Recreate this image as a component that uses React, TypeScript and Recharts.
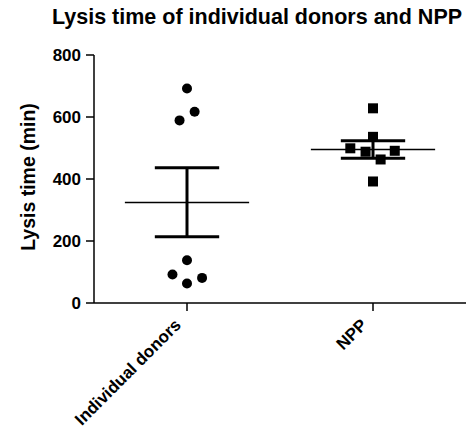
import React from 'react';
import {
    ScatterChart,
    Scatter,
    XAxis,
    YAxis,
    ReferenceLine,
} from 'recharts';

const categories = ['Individual donors', 'NPP'];
const yTicks = [0, 200, 400, 600, 800];

// individual points (x jitter in category units)
const donorValues = [692, 617, 589, 138, 92, 81, 63];
const donorJitter = [0, 0.041, -0.04, 0, -0.078, 0.081, 0];
const nppValues = [628, 536, 499, 488, 491, 463, 392];
const nppJitter = [0, 0, -0.122, -0.04, 0.117, 0.041, 0];

// mean and SEM per group
const means = [324, 495];
const semUpper = [436, 523];
const semLower = [214, 467];

const donorData = donorValues.map((v, i) => ({ x: 1 + donorJitter[i], y: v }));
const nppData = nppValues.map((v, i) => ({ x: 2 + nppJitter[i], y: v }));

const MEAN_HALF = 0.334;
const CAP_HALF = 0.173;

const font = '"Liberation Sans", Arial, sans-serif';

const Dot = (props: any) => <circle cx={props.cx} cy={props.cy} r={5} fill="#000" />;
const Square = (props: any) => (
    <rect x={props.cx - 5} y={props.cy - 5} width={10} height={10} fill="#000" />
);

const XTick = (props: any) => {
    const { x, y, payload } = props;
    const px = x - 5;
    const py = y + 13;
    return (
        <text
            x={px}
            y={py}
            transform={`rotate(-45, ${px}, ${py})`}
            textAnchor="end"
            fontFamily={font}
            fontWeight="bold"
            fontSize={17}
            fill="#000"
        >
            {categories[payload.value - 1]}
        </text>
    );
};

const YLabel = () => (
    <text
        x={35}
        y={177}
        transform="rotate(-90, 35, 177)"
        textAnchor="middle"
        fontFamily={font}
        fontWeight="bold"
        fontSize={19.5}
        fill="#000"
    >
        Lysis time (min)
    </text>
);

export default function App() {
    return (
        <div style={{ position: 'absolute', left: 0, top: 0, width: 468, height: 434, background: '#fff' }}>
            <div
                style={{
                    position: 'absolute',
                    left: 0,
                    top: 5,
                    width: 514,
                    textAlign: 'center',
                    fontFamily: font,
                    fontWeight: 'bold',
                    fontSize: 21.5,
                    color: '#000',
                }}
            >
                Lysis time of individual donors and NPP
            </div>
            <ScatterChart width={468} height={434} margin={{ top: 55, right: 2, bottom: 11, left: 0 }}>
                <XAxis
                    type="number"
                    dataKey="x"
                    domain={[0.5, 2.5]}
                    ticks={[1, 2]}
                    height={120}
                    stroke="#000"
                    strokeWidth={1.5}
                    tickSize={8}
                    tick={<XTick />}
                    allowDataOverflow
                />
                <YAxis
                    type="number"
                    dataKey="y"
                    domain={[0, 800]}
                    ticks={yTicks}
                    width={94}
                    stroke="#000"
                    strokeWidth={1.5}
                    tickSize={8}
                    tickMargin={5}
                    tick={{ fontSize: 17, fontWeight: 'bold', fill: '#000', fontFamily: font }}
                    label={<YLabel />}
                />
                {means.map((m, i) => (
                    <ReferenceLine
                        key={`mean-${i}`}
                        segment={[{ x: i + 1 - MEAN_HALF, y: m }, { x: i + 1 + MEAN_HALF, y: m }]}
                        stroke="#000"
                        strokeWidth={1.5}
                    />
                ))}
                {means.map((_, i) => (
                    <ReferenceLine
                        key={`sem-${i}`}
                        segment={[{ x: i + 1, y: semLower[i] }, { x: i + 1, y: semUpper[i] }]}
                        stroke="#000"
                        strokeWidth={3}
                    />
                ))}
                {means.map((_, i) => (
                    <ReferenceLine
                        key={`capu-${i}`}
                        segment={[{ x: i + 1 - CAP_HALF, y: semUpper[i] }, { x: i + 1 + CAP_HALF, y: semUpper[i] }]}
                        stroke="#000"
                        strokeWidth={3}
                    />
                ))}
                {means.map((_, i) => (
                    <ReferenceLine
                        key={`capl-${i}`}
                        segment={[{ x: i + 1 - CAP_HALF, y: semLower[i] }, { x: i + 1 + CAP_HALF, y: semLower[i] }]}
                        stroke="#000"
                        strokeWidth={3}
                    />
                ))}
                <Scatter data={donorData} shape={<Dot />} isAnimationActive={false} />
                <Scatter data={nppData} shape={<Square />} isAnimationActive={false} />
            </ScatterChart>
        </div>
    );
}
